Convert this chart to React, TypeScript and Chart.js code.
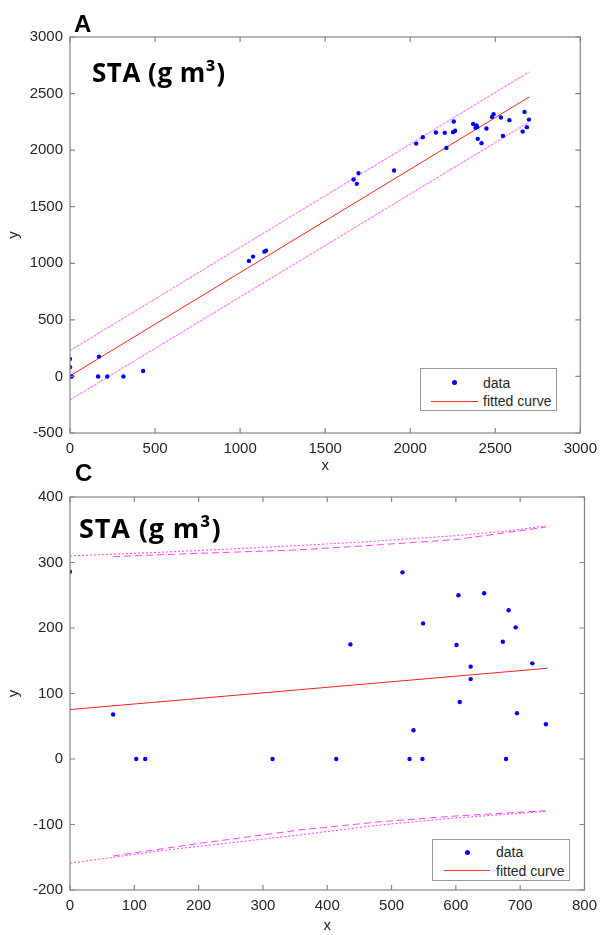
import React, { useEffect, useRef } from "react";
import { Chart, registerables } from "chart.js";
Chart.register(...registerables);

// ---------- Panel A ----------
const aDataX = [0, 0, 0, 10, 170, 165, 219, 314, 430, 1052, 1076, 1143, 1153, 1667, 1696, 1686, 1905, 2035, 2074, 2151, 2203, 2256, 2252, 2264, 2213, 2370, 2390, 2394, 2384, 2397, 2419, 2448, 2481, 2490, 2533, 2583, 2545, 2672, 2698, 2686, 2661];
const aDataY = [155, 81, 0, 0, 175, 0, 0, 0, 48, 1021, 1059, 1103, 1112, 1740, 1797, 1702, 1820, 2058, 2115, 2156, 2153, 2253, 2159, 2171, 2020, 2232, 2218, 2203, 2197, 2100, 2062, 2191, 2294, 2318, 2288, 2265, 2126, 2338, 2270, 2203, 2164];
const aFitX = [0, 2700];
const aFitY = [5, 2470];
const aUpperX = [0, 2700];
const aUpperY = [228, 2692];
const aLowerX = [0, 2690];
const aLowerY = [-208, 2240];
const aXTicks = { min: 0, max: 3000, step: 500 };
const aYTicks = { min: -500, max: 3000, step: 500 };

// ---------- Panel C ----------
const cDataX = [0, 67, 103, 117, 315, 414, 436, 517, 604, 644, 682, 549, 693, 601, 673, 719, 623, 623, 606, 695, 740, 534, 528, 548, 678];
const cDataY = [286, 68, 0, 0, 0, 0, 175, 285, 250, 253, 227, 207, 201, 174, 179, 146, 141, 122, 87, 70, 53, 44, 0, 0, 0];
const cFitX = [0, 742];
const cFitY = [75.5, 138.5];
const cUpperDotX = [0, 150, 300, 450, 600, 680, 740];
const cUpperDotY = [310, 316, 323, 331, 341, 348, 356];
const cUpperDashX = [67, 200, 350, 450, 600, 740];
const cUpperDashY = [309, 314, 319, 325, 335, 354];
const cLowerDotX = [0, 150, 356, 480, 600, 740];
const cLowerDotY = [-159, -139, -116, -101, -90, -80];
const cLowerDashX = [67, 200, 356, 480, 600, 740];
const cLowerDashY = [-148, -129, -108.5, -96, -87, -79];
const cXTicks = { min: 0, max: 800, step: 100 };
const cYTicks = { min: -200, max: 400, step: 100 };

const FONT = "'Liberation Sans', Arial, Helvetica, sans-serif";
const TXT = "#262626";

const pts = (xs: number[], ys: number[]) => xs.map((x, i) => ({ x, y: ys[i] }));

const boxPlugin = {
  id: "matlabBox",
  afterDatasetsDraw(chart: any) {
    const { ctx, chartArea: a, scales } = chart;
    ctx.save();
    ctx.strokeStyle = "#858585";
    ctx.lineWidth = 1.2;
    ctx.strokeRect(a.left, a.top, a.right - a.left, a.bottom - a.top);
    const t = 5;
    ctx.beginPath();
    scales.x.ticks.forEach((tk: any) => {
      const px = scales.x.getPixelForValue(tk.value);
      ctx.moveTo(px, a.bottom);
      ctx.lineTo(px, a.bottom - t);
      ctx.moveTo(px, a.top);
      ctx.lineTo(px, a.top + t);
    });
    scales.y.ticks.forEach((tk: any) => {
      const py = scales.y.getPixelForValue(tk.value);
      ctx.moveTo(a.left, py);
      ctx.lineTo(a.left + t, py);
      ctx.moveTo(a.right, py);
      ctx.lineTo(a.right - t, py);
    });
    ctx.stroke();
    ctx.restore();
  },
};

function buildConfig(p: any) {
  const tickFont = { family: FONT, size: 15 };
  return {
    type: "scatter",
    data: { datasets: p.datasets },
    options: {
      animation: false,
      responsive: false,
      devicePixelRatio: 1,
      layout: { padding: { top: p.padTop, right: 18, left: 0, bottom: 0 } },
      plugins: { legend: { display: false }, tooltip: { enabled: false } },
      scales: {
        x: {
          type: "linear",
          min: p.xt.min,
          max: p.xt.max,
          ticks: { stepSize: p.xt.step, color: TXT, font: tickFont, padding: 7, maxRotation: 0, callback: (v: any) => String(v) },
          grid: { display: false, drawTicks: false },
          border: { display: false },
          title: { display: true, text: "x", color: TXT, font: { family: FONT, size: 15 }, padding: { top: 0, bottom: 0 } },
          afterFit: (s: any) => { s.height = p.xAxisH; },
        },
        y: {
          type: "linear",
          min: p.yt.min,
          max: p.yt.max,
          ticks: { stepSize: p.yt.step, color: TXT, font: tickFont, padding: 7, callback: (v: any) => String(v) },
          grid: { display: false, drawTicks: false },
          border: { display: false },
          title: { display: true, text: "y", color: TXT, font: { family: FONT, size: 15 }, padding: { top: 5, bottom: 0 } },
          afterFit: (s: any) => { s.width = 70; },
        },
      },
    },
    plugins: [boxPlugin],
  };
}

const dataDs = (xs: number[], ys: number[]) => ({
  data: pts(xs, ys),
  pointRadius: 2.2,
  pointBackgroundColor: "#0000ff",
  pointBorderWidth: 0,
  showLine: false,
});
const lineDs = (xs: number[], ys: number[], color: string, width: number, dash: number[] = []) => ({
  data: pts(xs, ys),
  showLine: true,
  pointRadius: 0,
  borderColor: color,
  borderWidth: width,
  borderDash: dash,
  fill: false,
});

function ChartCanvas({ top, height, make }: { top: number; height: number; make: () => any }) {
  const ref = useRef<HTMLCanvasElement>(null);
  useEffect(() => {
    const chart = new Chart(ref.current as HTMLCanvasElement, make());
    return () => chart.destroy();
  }, []);
  return <canvas ref={ref} width={604} height={height} style={{ position: "absolute", left: 0, top, width: 604, height }} />;
}

function Legend({ left, top, width, height, dotX, lineX1, lineX2, textX, y1, y2 }: any) {
  const txt = (y: number, s: string) => (
    <div style={{ position: "absolute", left: textX - left, top: y - top - 9, lineHeight: "18px", fontSize: 14, fontFamily: FONT, color: TXT, whiteSpace: "nowrap" }}>{s}</div>
  );
  return (
    <div style={{ position: "absolute", left, top, width, height, background: "#fff", border: "1px solid #9a9a9a", boxSizing: "border-box" }}>
      <div style={{ position: "absolute", left: dotX - left - 2.5, top: y1 - top - 2.5, width: 5, height: 5, borderRadius: "50%", background: "#0000ff" }} />
      {txt(y1, "data")}
      <div style={{ position: "absolute", left: lineX1 - left, top: y2 - top - 0.5, width: lineX2 - lineX1, height: 1, background: "#ff3030" }} />
      {txt(y2, "fitted curve")}
    </div>
  );
}

const labelStyle = (left: number, top: number, size: number): React.CSSProperties => ({
  position: "absolute", left, top, fontFamily: FONT, fontWeight: 700, fontSize: size, lineHeight: 1, color: "#000",
});
const staStyle = (left: number, top: number, size: number, spacing: number): React.CSSProperties => ({
  position: "absolute", left, top, fontFamily: "'Open Sans', 'Noto Sans', sans-serif", fontWeight: 700, fontSize: size, lineHeight: 1, color: "#000", letterSpacing: spacing, whiteSpace: "nowrap",
});

export default function App() {
  const makeA = () =>
    buildConfig({
      xt: aXTicks, yt: aYTicks, padTop: 37, xAxisH: 42,
      datasets: [
        dataDs(aDataX, aDataY),
        lineDs(aFitX, aFitY, "#ff2020", 1),
        lineDs(aUpperX, aUpperY, "#ff7cff", 1.1, [3, 1]),
        lineDs(aLowerX, aLowerY, "#ff7cff", 1.1, [3, 1]),
      ],
    });
  const makeC = () =>
    buildConfig({
      xt: cXTicks, yt: cYTicks, padTop: 22, xAxisH: 45,
      datasets: [
        dataDs(cDataX, cDataY),
        lineDs(cFitX, cFitY, "#ff2020", 1),
        lineDs(cUpperDotX, cUpperDotY, "#ff40ff", 1, [2, 2]),
        lineDs(cUpperDashX, cUpperDashY, "#ff40ff", 1, [7, 4]),
        lineDs(cLowerDotX, cLowerDotY, "#ff40ff", 1, [2, 2]),
        lineDs(cLowerDashX, cLowerDashY, "#ff40ff", 1, [7, 4]),
      ],
    });
  return (
    <div style={{ position: "absolute", left: 0, top: 0, width: 604, height: 935, background: "#fff", overflow: "hidden" }}>
      <ChartCanvas top={0} height={475} make={makeA} />
      <ChartCanvas top={475} height={460} make={makeC} />
      <div style={labelStyle(74, 11.7, 24)}>A</div>
      <div style={labelStyle(75, 460.7, 24)}>C</div>
      <div style={staStyle(92, 58.6, 26, 0.5)}>STA (g m³)</div>
      <div style={staStyle(79, 514.3, 27, 0.9)}>STA (g m³)</div>
      <Legend left={420} top={368} width={137} height={43} dotX={453} lineX1={430} lineX2={477} textX={482} y1={381.5} y2={400} />
      <Legend left={432} top={839} width={138} height={42} dotX={466} lineX1={443} lineX2={489} textX={495} y1={851} y2={869.5} />
    </div>
  );
}
